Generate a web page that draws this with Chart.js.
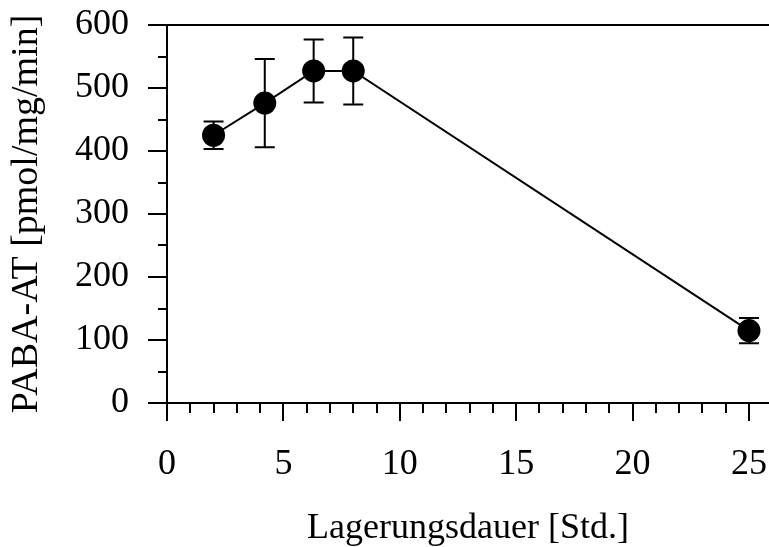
<!DOCTYPE html>
<html>
<head>
<meta charset="utf-8">
<script src="https://cdn.jsdelivr.net/npm/chart.js@4/dist/chart.umd.min.js"></script>
<style>
  html, body { margin: 0; padding: 0; background: #fff; overflow: hidden; }
  canvas { display: block; }
</style>
</head>
<body>
<canvas id="chart" width="769" height="547"></canvas>
<script>
// storage time [h] and PABA-AT activity with error (SD)
const hours = [2, 4.2, 6.3, 8, 25];
const activity = [425, 476, 527, 527, 115];
const errors = [22, 70, 50, 53, 20];
const xTicks = [0, 5, 10, 15, 20, 25];
const yTicks = [0, 100, 200, 300, 400, 500, 600];

const FONT = 'Liberation Serif, Times New Roman, serif';

// tick marks (major + minor), top frame line and error bars
const axisMarks = {
  id: 'axisMarks',
  beforeDatasetsDraw(chart) {
    const { ctx, scales: { x, y } } = chart;
    ctx.save();
    ctx.strokeStyle = '#000';
    ctx.lineWidth = 2;
    errors.forEach((e, i) => {
      const px = x.getPixelForValue(hours[i]);
      const top = y.getPixelForValue(activity[i] + e);
      const bot = y.getPixelForValue(activity[i] - e);
      ctx.beginPath();
      ctx.moveTo(px, top); ctx.lineTo(px, bot);
      ctx.moveTo(px - 10, top); ctx.lineTo(px + 10, top);
      ctx.moveTo(px - 10, bot); ctx.lineTo(px + 10, bot);
      ctx.stroke();
    });
    ctx.restore();
  },
  afterDraw(chart) {
    const { ctx, chartArea: a, scales: { x, y } } = chart;
    ctx.save();
    ctx.strokeStyle = '#000';
    ctx.lineWidth = 2;
    ctx.beginPath();
    // top frame line and bottom axis line to the right edge
    ctx.moveTo(a.left - 19, a.top); ctx.lineTo(chart.width, a.top);
    ctx.moveTo(a.left, a.bottom); ctx.lineTo(chart.width, a.bottom);
    // y ticks
    for (let v = 0; v <= 600; v += 50) {
      const py = Math.round(y.getPixelForValue(v));
      const len = v % 100 === 0 ? 19 : 9;
      ctx.moveTo(a.left - len, py); ctx.lineTo(a.left, py);
    }
    // x ticks
    for (let v = 0; v <= 25; v += 1) {
      const px = Math.round(x.getPixelForValue(v));
      const len = v % 5 === 0 ? 18 : 10;
      ctx.moveTo(px, a.bottom); ctx.lineTo(px, a.bottom + len);
    }
    ctx.stroke();
    ctx.restore();
  }
};

const noPad = s => { s.paddingTop = 0; s.paddingBottom = 0; s.paddingLeft = 0; s.paddingRight = 0; };

new Chart(document.getElementById('chart'), {
  type: 'line',
  data: {
    datasets: [{
      data: hours.map((h, i) => ({ x: h, y: activity[i] })),
      borderColor: '#000',
      borderWidth: 2,
      backgroundColor: '#000',
      pointRadius: 11.5,
      pointBackgroundColor: '#000',
      pointBorderWidth: 0,
      tension: 0,
      clip: false
    }]
  },
  options: {
    responsive: false,
    animation: false,
    events: [],
    layout: { autoPadding: false, padding: { top: 25, right: 0, left: 0, bottom: 0 } },
    plugins: { legend: { display: false }, tooltip: { enabled: false } },
    scales: {
      x: {
        type: 'linear',
        min: 0,
        max: 25.86,
        afterBuildTicks: s => { s.ticks = xTicks.map(v => ({ value: v })); },
        afterFit: s => { s.height = 144; noPad(s); },
        grid: { display: false, drawTicks: false },
        border: { display: true, color: '#000', width: 2 },
        ticks: { color: '#000', padding: 40, maxRotation: 0, font: { family: FONT, size: 36 } },
        title: {
          display: true,
          text: 'Lagerungsdauer [Std.]',
          color: '#000',
          padding: { top: 0, bottom: -3 },
          font: { family: FONT, size: 36 }
        }
      },
      y: {
        min: 0,
        max: 600,
        afterBuildTicks: s => { s.ticks = yTicks.map(v => ({ value: v })); },
        afterFit: s => { s.width = 167; noPad(s); },
        grid: { display: false, drawTicks: false },
        border: { display: true, color: '#000', width: 2 },
        ticks: { color: '#000', padding: 38, font: { family: FONT, size: 36 } },
        title: {
          display: true,
          text: 'PABA-AT [pmol/mg/min]',
          color: '#000',
          padding: { top: 4, bottom: 0 },
          font: { family: FONT, size: 38 }
        }
      }
    }
  },
  plugins: [axisMarks]
});
</script>
</body>
</html>
